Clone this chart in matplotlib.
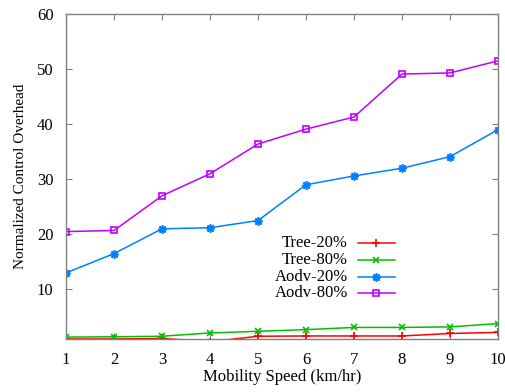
import matplotlib
matplotlib.use("Agg")
import matplotlib.pyplot as plt
from matplotlib.lines import Line2D

speed = [1, 2, 3, 4, 5, 6, 7, 8, 9, 10]
tree20 = [1.0, 1.0, 1.1, 0.5, 1.5, 1.55, 1.55, 1.55, 2.0, 2.2]
tree80 = [1.35, 1.4, 1.5, 2.1, 2.4, 2.7, 3.1, 3.1, 3.2, 3.8]
aodv20 = [13.0, 16.5, 21.0, 21.2, 22.5, 29.0, 30.6, 32.0, 34.1, 39.0]
aodv80 = [20.5, 20.7, 27.0, 31.0, 36.4, 39.1, 41.3, 49.1, 49.3, 51.5]
labels = ["Tree-20%", "Tree-80%", "Aodv-20%", "Aodv-80%"]
yticks = [10, 20, 30, 40, 50, 60]

colors = ["#ff0000", "#00c000", "#0080ff", "#c000ff"]
markers = ["+", "x", (8, 2, 0), "s"]
msizes = [6, 4.5, 6, 4.2]

plt.rcParams['font.family'] = ['Liberation Serif', 'DejaVu Serif']

fig = plt.figure(figsize=(5.06, 3.92), dpi=100)
ax = fig.add_axes([66/506, 1-339/392, (498-66)/506, (339-14)/392])

series = [tree20, tree80, aodv20, aodv80]
for vals, c, m, ms in zip(series, colors, markers, msizes):
    ax.plot(speed, vals, color=c, lw=1.1, marker=m, markersize=ms,
            markerfacecolor='none', markeredgecolor=c, markeredgewidth=1.2,
            clip_on=True)

ax.set_xlim(1, 10)
ax.set_ylim(1, 60)
ax.set_xticks(speed)
ax.set_yticks(yticks)
ax.tick_params(direction='in', top=True, right=True, length=4, width=0.8,
               color='#808080', labelsize=12)
ax.tick_params(axis='y', pad=9)
ax.tick_params(axis='x', pad=9)
for s in ax.spines.values():
    s.set_color('#808080')
    s.set_linewidth(1.0)

ax.set_xlabel("Mobility Speed (km/hr)", fontsize=12, labelpad=1)
ax.set_ylabel("Normalized Control Overhead", fontsize=11, labelpad=7)

# gnuplot-style key: right-aligned text, sample on the right
x_text = (348 - 66) / (498 - 66)
x0 = (358 - 66) / (498 - 66)
x1 = (395 - 66) / (498 - 66)
ys = [243, 260, 277, 293]
for lab, c, m, ms, yp in zip(labels, colors, markers, msizes, ys):
    ya = (339 - yp) / (339 - 14)
    ax.text(x_text, ya, lab, transform=ax.transAxes, ha='right', va='center',
            fontsize=12)
    ax.add_line(Line2D([x0, x1], [ya, ya], transform=ax.transAxes, color=c, lw=1.1))
    ax.add_line(Line2D([(x0 + x1) / 2], [ya], transform=ax.transAxes, color=c,
                       marker=m, markersize=ms, markerfacecolor='none',
                       markeredgecolor=c, markeredgewidth=1.2))

fig.savefig("out.png", dpi=100)
